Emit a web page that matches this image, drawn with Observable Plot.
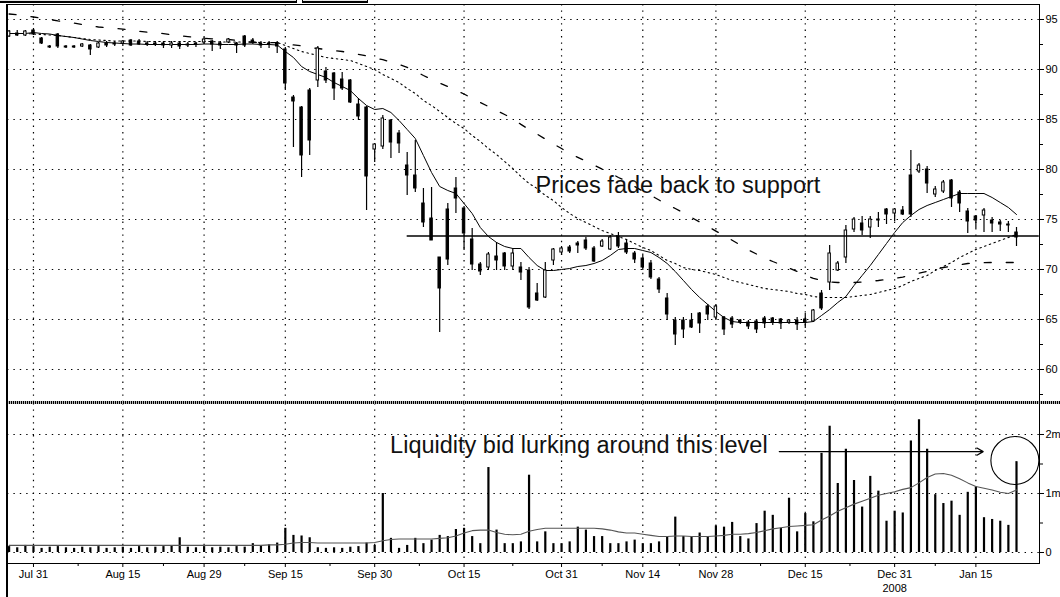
<!DOCTYPE html>
<html><head><meta charset="utf-8">
<script src="https://cdn.jsdelivr.net/npm/d3@7"></script>
<script src="https://cdn.jsdelivr.net/npm/@observablehq/plot@0.6"></script>
<style>
body{margin:0;background:#fff;}
#wrap{position:relative;width:1060px;height:597px;overflow:hidden;background:#fff;font-family:"Liberation Sans",Arial,sans-serif;}
#wrap svg{position:absolute;left:0;}
.deco{position:absolute;}
</style></head><body><div id="wrap"></div>
<script>
// ---- data (bar index 0..124, trading days) ----
const open = [93.3,93.6,93.4,93.9,93.1,92.3,93.5,92.3,92.2,92.3,92.4,92.2,92.6,92.5,92.6,92.9,92.8,92.5,92.6,92.6,92.4,92.6,92.4,92.5,92.7,92.8,92.6,92.7,92.6,93.3,92.9,92.6,92.5,92.6,
92.0,87.2,86.2,87.9,88.9,89.8,89.6,89.0,88.9,86.5,86.2,82.0,82.3,84.9,83.6,80.4,79.4,76.6,75.1,71.2,76.0,78.1,76.1,73.0,70.5,70.2,71.3,71.6,70.3,70.2,69.9,67.6,67.2,70.9,71.7,72.2,72.6,72.9,72.1,72.3,72.0,73.3,72.6,71.6,71.1,70.6,69.0,67.1,64.9,64.9,64.9,65.6,
66.3,65.2,65.2,65.1,64.9,64.7,64.8,65.1,65.1,65.0,64.7,64.9,65.0,64.8,67.6,68.7,69.9,71.2,74.0,74.6,74.2,75.0,76.0,75.6,75.9,79.4,79.8,80.0,77.5,77.8,78.9,77.7,75.8,75.3,75.4,74.9,74.7,74.5,73.7];
const high = [93.9,93.9,93.9,94.1,93.2,92.4,93.6,92.4,92.4,92.6,92.5,92.7,92.8,92.8,92.9,93.0,93.0,92.8,92.8,92.8,92.8,92.8,92.7,92.7,93.2,92.9,92.8,93.1,92.7,93.4,93.1,92.8,92.8,92.8,
92.2,87.4,86.3,88.1,92.3,90.2,89.7,89.7,89.0,87.1,86.3,82.6,85.4,85.0,83.9,81.7,82.9,78.1,78.2,71.2,76.6,79.2,76.3,74.1,70.7,71.7,72.7,71.7,72.1,70.7,70.2,68.6,70.7,72.1,72.3,72.4,72.8,73.2,72.3,73.0,73.4,73.7,72.9,71.8,71.4,70.9,69.2,67.6,65.2,65.2,65.6,65.7,
66.5,66.5,65.3,65.3,65.0,64.9,65.0,65.3,65.2,65.1,65.0,65.2,65.6,66.0,67.9,72.4,70.8,74.4,75.2,75.3,75.3,75.7,76.1,76.1,76.3,81.9,80.6,80.3,78.3,78.9,79.0,77.9,76.1,75.4,76.1,75.2,74.9,74.8,74.2];
const low = [93.2,93.3,93.3,93.4,92.5,92.1,92.1,92.1,92.1,92.2,91.4,92.1,92.2,92.3,92.3,92.3,92.4,92.3,92.3,92.1,92.1,92.0,92.2,92.2,92.5,91.8,92.0,92.6,91.6,92.2,92.5,92.1,92.1,91.6,
87.9,82.2,79.2,81.4,88.2,88.6,86.9,87.9,86.6,84.9,75.9,80.7,82.0,81.1,81.6,77.4,77.7,74.2,72.9,63.7,70.4,75.6,71.9,69.9,69.4,69.9,69.9,69.9,69.9,68.9,66.0,66.8,67.1,70.4,71.4,71.6,71.6,71.9,70.7,72.2,71.9,72.1,71.5,70.6,69.9,69.0,67.6,64.9,62.4,63.1,64.1,63.6,
64.9,64.9,63.4,64.1,64.5,64.0,63.6,64.1,64.4,64.0,64.5,63.9,64.1,64.7,65.9,67.9,69.8,70.6,73.7,73.4,73.1,74.2,74.5,74.8,75.4,75.2,79.6,77.6,77.2,77.6,76.2,75.7,73.6,74.1,73.7,73.7,73.8,73.7,72.3];
const close = [93.8,93.4,93.8,93.5,92.6,92.2,92.3,92.2,92.3,92.5,92.0,92.6,92.4,92.6,92.8,92.4,92.5,92.6,92.5,92.4,92.6,92.3,92.5,92.6,93.0,92.5,92.4,93.0,92.4,92.4,92.7,92.4,92.6,92.3,
88.6,86.8,81.4,82.9,92.1,88.9,88.1,88.1,86.7,85.3,79.3,82.5,85.1,82.7,82.6,79.4,78.1,74.7,72.9,68.1,71.0,77.1,73.6,70.5,69.8,71.5,70.9,70.3,71.6,69.7,66.2,66.9,69.9,72.0,72.1,71.8,72.4,72.1,70.8,72.8,73.2,72.3,71.7,71.0,70.2,69.2,68.0,65.5,63.5,64.0,64.2,64.6,
65.5,66.3,64.0,64.5,64.7,64.3,64.0,64.6,64.7,64.6,64.9,64.5,64.7,65.9,66.1,71.6,70.6,73.9,75.0,73.9,75.0,74.9,75.5,76.0,75.5,75.5,80.4,78.6,78.0,78.7,77.1,76.6,74.8,74.9,75.9,74.6,74.5,74.4,73.2];
// volume, millions of shares
const volume = [0.10,0.08,0.12,0.10,0.07,0.09,0.10,0.08,0.07,0.09,0.08,0.10,0.07,0.08,0.09,0.07,0.10,0.08,0.09,0.10,0.11,0.25,0.09,0.08,0.10,0.08,0.09,0.08,0.10,0.09,0.15,0.11,0.13,0.16,
0.41,0.29,0.28,0.25,0.08,0.07,0.08,0.07,0.09,0.10,0.16,0.12,1.00,0.24,0.07,0.12,0.24,0.15,0.21,0.29,0.27,0.39,0.41,0.27,0.15,1.44,0.38,0.15,0.15,0.18,1.31,0.18,0.35,0.15,0.15,0.18,0.43,0.38,0.27,0.27,0.15,0.15,0.18,0.21,0.15,0.15,0.18,0.27,0.60,0.27,0.27,0.33,
0.27,0.45,0.43,0.51,0.27,0.23,0.49,0.70,0.63,0.41,0.92,0.35,0.66,0.52,1.68,2.14,1.17,1.75,1.22,0.77,1.29,1.04,0.53,0.70,0.67,1.89,2.25,1.75,0.98,0.83,0.87,0.63,1.02,1.11,0.59,0.56,0.53,0.46,1.54];
// moving averages
const maShort = [93.6,93.6,93.6,93.7,93.6,93.55,93.4,93.3,93.2,93.05,92.9,92.8,92.7,92.65,92.6,92.55,92.55,92.5,92.5,92.5,92.5,92.5,92.5,92.5,92.55,92.55,92.5,92.5,92.5,92.55,92.55,92.5,92.5,92.45,
91.8,91.2,90.3,89.8,89.5,89.2,88.7,88.3,87.9,87.1,86.4,86.0,86.1,85.7,84.9,84.0,83.1,81.4,79.7,78.3,77.9,77.6,76.6,75.6,74.2,73.3,72.7,72.3,72.1,72.1,71.2,70.4,69.9,69.9,70.0,70.1,70.3,70.4,70.6,70.9,71.4,72.0,72.1,72.1,71.9,71.7,71.2,70.6,69.8,68.9,68.0,67.2,
66.5,65.8,65.2,64.8,64.7,64.7,64.7,64.7,64.7,64.7,64.7,64.7,64.7,64.8,65.4,66.0,66.7,67.3,68.4,69.4,70.4,71.5,72.6,73.7,74.7,75.4,76.0,76.4,76.7,77.0,77.3,77.6,77.6,77.6,77.6,77.2,76.7,76.2,75.5];
const maMid = [93.6,93.6,93.6,93.55,93.5,93.45,93.4,93.3,93.2,93.1,93.0,92.95,92.9,92.85,92.85,92.85,92.85,92.8,92.8,92.8,92.8,92.8,92.8,92.8,92.8,92.8,92.75,92.75,92.75,92.75,92.75,92.7,92.7,92.7,
92.4,92.1,91.8,91.6,91.4,91.2,91.1,91.0,90.9,90.6,90.3,90.0,89.5,89.1,88.7,88.1,87.6,86.9,86.4,85.8,85.2,84.6,84.1,83.4,82.8,82.1,81.5,80.8,80.1,79.3,78.6,78.1,77.4,76.9,76.2,75.6,75.1,74.7,74.3,73.9,73.6,73.3,73.0,72.6,72.2,71.9,71.4,70.9,70.6,70.2,70.0,69.9,
69.7,69.5,69.2,68.9,68.7,68.5,68.3,68.1,68.0,67.9,67.8,67.6,67.5,67.3,67.2,67.2,67.2,67.2,67.3,67.4,67.5,67.7,67.9,68.1,68.4,68.8,69.1,69.4,69.9,70.3,70.7,71.2,71.6,72.0,72.3,72.6,72.9,73.2,73.5];
const maLong = [95.55,95.47,95.38,95.25,95.13,95.0,94.86,94.75,94.64,94.5,94.37,94.25,94.2,94.13,94.03,93.93,93.82,93.73,93.65,93.59,93.48,93.38,93.29,93.21,93.13,93.07,93.03,93.0,92.92,92.8,92.71,92.7,92.7,92.68,
92.57,92.46,92.36,92.21,92.1,92.0,91.9,91.8,91.67,91.51,91.36,91.16,90.98,90.74,90.5,90.21,89.85,89.4,89.01,88.65,88.3,87.92,87.55,87.1,86.7,86.3,85.9,85.5,85.07,84.51,84.0,83.54,83.04,82.55,82.1,81.6,81.22,80.84,80.43,80.03,79.66,79.2,78.85,78.3,77.84,77.4,76.95,76.5,76.1,75.66,75.2,74.75,
74.3,73.84,73.4,72.93,72.44,71.96,71.55,71.15,70.8,70.48,70.15,69.8,69.42,69.12,68.92,68.74,68.7,68.7,68.7,68.75,68.82,68.9,69.0,69.12,69.24,69.45,69.63,69.8,70.0,70.2,70.34,70.48,70.6,70.64,70.68,70.7,70.7,70.7,70.7];
const volMA = [0.12,0.12,0.12,0.12,0.12,0.12,0.12,0.12,0.12,0.12,0.12,0.12,0.12,0.12,0.12,0.12,0.12,0.12,0.12,0.12,0.12,0.12,0.12,0.12,0.12,0.12,0.12,0.12,0.12,0.12,0.12,0.12,0.13,0.13,
0.14,0.16,0.17,0.17,0.16,0.16,0.16,0.16,0.16,0.16,0.16,0.17,0.20,0.22,0.23,0.23,0.23,0.23,0.23,0.24,0.25,0.28,0.33,0.37,0.38,0.38,0.34,0.31,0.30,0.31,0.36,0.39,0.41,0.41,0.41,0.41,0.41,0.41,0.41,0.40,0.38,0.35,0.33,0.33,0.31,0.29,0.27,0.27,0.28,0.28,0.27,0.27,
0.27,0.28,0.29,0.31,0.31,0.32,0.34,0.37,0.40,0.42,0.44,0.45,0.46,0.47,0.55,0.62,0.70,0.76,0.82,0.87,0.92,0.97,1.00,1.03,1.07,1.10,1.18,1.27,1.33,1.34,1.31,1.25,1.18,1.12,1.09,1.06,1.02,1.00,1.06];

// axes
const tickLabels = ["Jul 31","Aug 15","Aug 29","Sep 15","Sep 30","Oct 15","Oct 31","Nov 14","Nov 28","Dec 15","Dec 31","Jan 15"];
const tickIndex  = [3,14,24,34,45,56,68,78,87,98,109,119];
const yearLabel = "2008";
const priceTicks = [60,65,70,75,80,85,90,95];
const priceMinor = [57.5,62.5,67.5,72.5,77.5,82.5,87.5,92.5];
const volTicks = [0,1,2];
const volMinor = [0.5,1.5];

// annotations (bar index / value coordinates)
const support = {level: 73.35, from: 49, to: 126.8};
const priceNote = {text: "Prices fade back to support", i: 64.8, p: 77.7};
const volNote = {text: "Liquidity bid lurking around this level", i: 46.9, v: 1.678};
const volArrow = {i1: 94.8, i2: 119.9, v: 1.71};
const volCircle = {i: 123.8, v: 1.56};

const N = close.length;
const rows = d3.range(N).map(i => ({i, o: open[i], h: high[i], l: low[i], c: close[i], v: volume[i], m1: maShort[i], m2: maMid[i], m3: maLong[i], vm: volMA[i]}));
const labelAt = new Map(tickIndex.map((t, k) => [t, tickLabels[k]]));
const midTicks = tickIndex.slice(1).map((t, k) => (t + tickIndex[k]) / 2);

const xScale = {domain: [0, N - 1], range: [8.6, 1016], axis: null};
const baseStyle = {background: "transparent", overflow: "visible", fontFamily: "Liberation Sans, Arial, sans-serif", fontSize: "11px", color: "#000"};
const dots = {stroke: "#000", strokeWidth: 1.2, strokeDasharray: "1.4 5"};

const price = Plot.plot({
  width: 1060, height: 403, marginTop: 4, marginBottom: 0, marginLeft: 7, marginRight: 21,
  style: baseStyle,
  x: xScale,
  y: {domain: [56.6, 96.5], axis: null},
  marks: [
    Plot.ruleY(priceTicks, dots),
    Plot.ruleX(tickIndex, dots),
    Plot.frame({stroke: "#000"}),
    Plot.axisY({anchor: "right", ticks: priceTicks, tickSize: 4, tickPadding: 2, label: null, tickFormat: d => String(d), fontSize: 11}),
    Plot.axisY({anchor: "right", ticks: priceMinor, tickSize: 3, label: null, tickFormat: () => ""}),
    Plot.line(rows, {x: "i", y: "m3", stroke: "#000", strokeWidth: 1.3, strokeDasharray: "7 15"}),
    Plot.line(rows, {x: "i", y: "m2", stroke: "#000", strokeWidth: 1.1, strokeDasharray: "1.5 3.5"}),
    Plot.line(rows, {x: "i", y: "m1", stroke: "#000", strokeWidth: 1}),
    Plot.ruleX(rows, {x: "i", y1: "l", y2: "h", stroke: "#000", strokeWidth: 1.2}),
    Plot.rect(rows, {filter: d => d.c < d.o, x1: d => d.i - 0.15, x2: d => d.i + 0.15, y1: "o", y2: "c", fill: "#000", stroke: "#000"}),
    Plot.rect(rows, {filter: d => d.c >= d.o, x1: d => d.i - 0.15, x2: d => d.i + 0.15, y1: "o", y2: "c", fill: "#fff", stroke: "#000"}),
    Plot.ruleY([support], {y: "level", x1: "from", x2: "to", stroke: "#000", strokeWidth: 1.3}),
    Plot.text([priceNote], {x: "i", y: "p", text: "text", textAnchor: "start", lineAnchor: "bottom", fontSize: 23.5, fill: "#111"})
  ]
});
price.style.top = "0px";

const vol = Plot.plot({
  width: 1060, height: 194, marginTop: 0, marginBottom: 34, marginLeft: 7, marginRight: 21,
  style: baseStyle,
  x: xScale,
  y: {domain: [-0.1864, 2.5254], axis: null},
  marks: [
    Plot.ruleY(volTicks, dots),
    Plot.ruleX(tickIndex, dots),
    Plot.frame({stroke: "#000"}),
    Plot.axisY({anchor: "right", ticks: volTicks, tickSize: 4, tickPadding: 2, label: null, tickFormat: d => d === 0 ? "0" : d + "m", fontSize: 11}),
    Plot.axisY({anchor: "right", ticks: volMinor, tickSize: 3, label: null, tickFormat: () => ""}),
    Plot.ruleX(rows, {x: "i", y1: 0, y2: "v", stroke: "#000", strokeWidth: 2.2}),
    Plot.line(rows, {x: "i", y: "vm", stroke: "#555", strokeWidth: 1.1}),
    Plot.axisX({anchor: "bottom", ticks: tickIndex, tickSize: 4, tickPadding: 3, label: null, tickFormat: d => labelAt.get(d), fontSize: 11}),
    Plot.axisX({anchor: "bottom", ticks: midTicks, tickSize: 3, label: null, tickFormat: () => ""}),
    Plot.text([yearLabel], {x: tickIndex[10], frameAnchor: "bottom", dy: 28, text: d => d, fontSize: 11}),
    Plot.text([volNote], {x: "i", y: "v", text: "text", textAnchor: "start", lineAnchor: "bottom", fontSize: 23.5, fill: "#111"}),
    Plot.arrow([volArrow], {x1: "i1", x2: "i2", y1: "v", y2: "v", stroke: "#000", strokeWidth: 1.2, headLength: 9}),
    Plot.dot([volCircle], {x: "i", y: "v", r: 24, stroke: "#000", fill: "none", strokeWidth: 1.1})
  ]
});
vol.style.top = "403px";

const wrap = document.getElementById("wrap");
wrap.append(price, vol);
// chart chrome: panel separator, thick left border, toolbar edges
const deco = [
  "left:7px;top:401px;width:1053px;height:3px;background:repeating-linear-gradient(90deg,#000 0 1px,#bbb 1px 2px)",
  "left:6px;top:4px;width:2px;height:593px;background:#000",
  "left:-1px;top:-8px;width:297px;height:9px;background:#e6e6e6;border-right:1px solid #000;border-bottom:2px solid #000",
  "left:302px;top:-8px;width:64px;height:9px;background:#e6e6e6;border-left:1px solid #000;border-right:1px solid #000;border-bottom:2px solid #000"
];
for (const css of deco) { const d = document.createElement("div"); d.className = "deco"; d.style.cssText = css; wrap.append(d); }
</script>
</body></html>
